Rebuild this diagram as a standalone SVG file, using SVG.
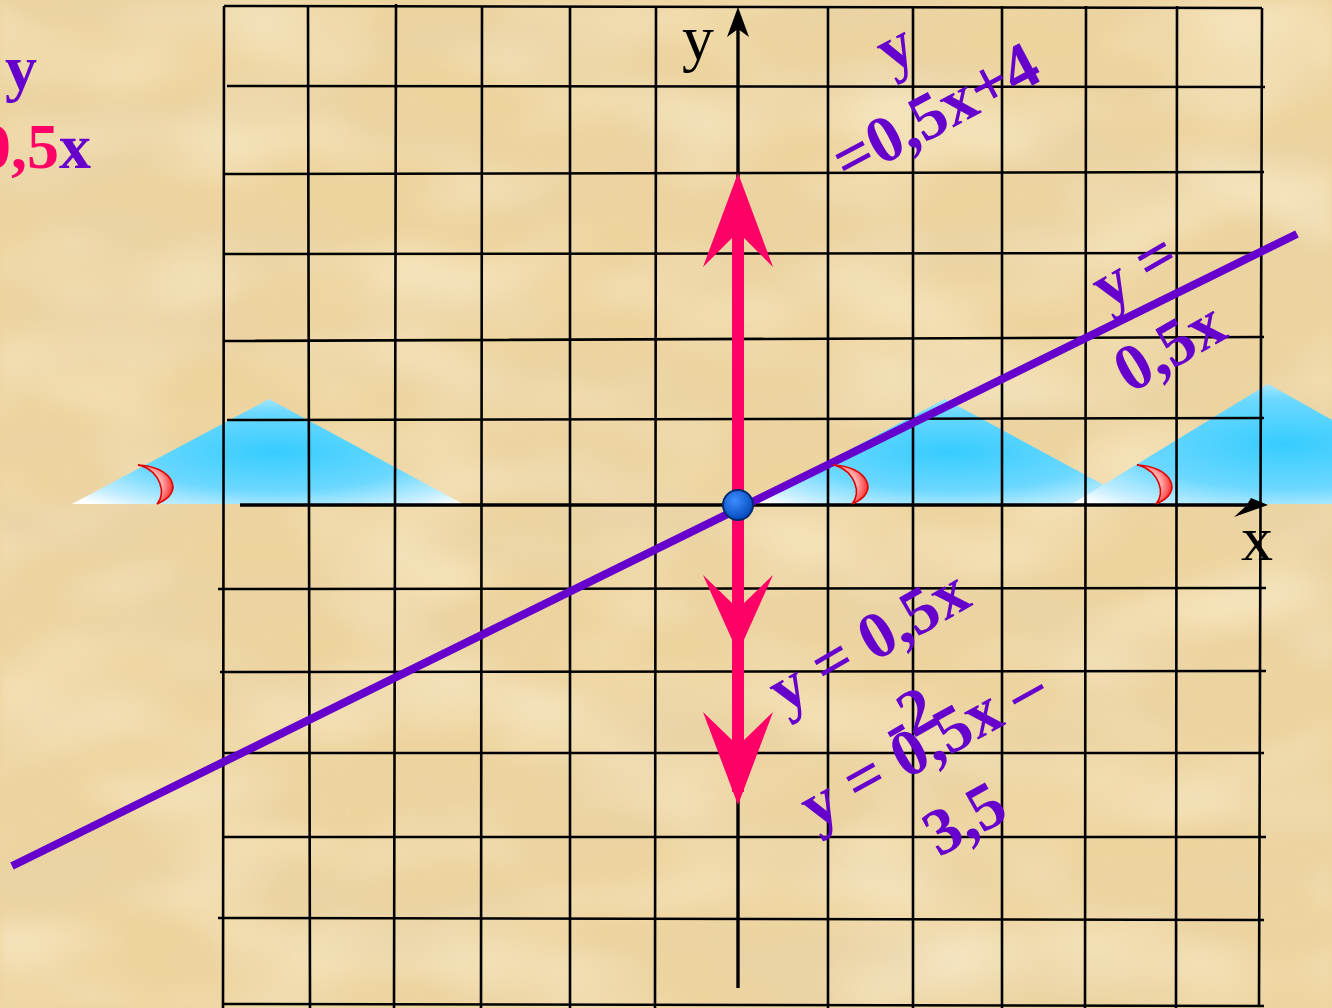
<svg xmlns="http://www.w3.org/2000/svg" width="1332" height="1008" viewBox="0 0 1332 1008">
  <defs>
    <filter id="paperDark" x="0" y="0" width="100%" height="100%" filterUnits="userSpaceOnUse">
      <feTurbulence type="fractalNoise" baseFrequency="0.004 0.014" numOctaves="2" seed="7"/>
      <feColorMatrix type="matrix" values="0 0 0 0 0.80  0 0 0 0 0.65  0 0 0 0 0.40  1.4 0 0 0 -0.55"/>
      <feGaussianBlur stdDeviation="4"/>
    </filter>
    <filter id="paperLight" x="0" y="0" width="100%" height="100%" filterUnits="userSpaceOnUse">
      <feTurbulence type="fractalNoise" baseFrequency="0.006 0.012" numOctaves="2" seed="23"/>
      <feColorMatrix type="matrix" values="0 0 0 0 0.98  0 0 0 0 0.88  0 0 0 0 0.66  0 1.2 0 0 -0.5"/>
      <feGaussianBlur stdDeviation="4"/>
    </filter>
    <radialGradient id="triGrad" cx="0.52" cy="0.5" r="0.68">
      <stop offset="0" stop-color="#36CCFF"/>
      <stop offset="0.55" stop-color="#6CD8FF"/>
      <stop offset="0.85" stop-color="#C4EEFF"/>
      <stop offset="1" stop-color="#FFFFFF"/>
    </radialGradient>
    <radialGradient id="crescGrad" cx="0.35" cy="0.5" r="0.7">
      <stop offset="0" stop-color="#FFF2F2"/>
      <stop offset="0.5" stop-color="#FFA8A8"/>
      <stop offset="1" stop-color="#FF1A1A"/>
    </radialGradient>
    <radialGradient id="dotGrad" cx="0.4" cy="0.35" r="0.7">
      <stop offset="0" stop-color="#3D8CFF"/>
      <stop offset="1" stop-color="#0046B8"/>
    </radialGradient>
    <path id="crescent" d="M -19 -39 C 14 -38 30 -12 0 0 C 10 -12 2 -32 -15 -38 Z"/>
    <style>
      .grid { stroke: #000; stroke-width: 2.6; fill: none; }
      .axis { stroke: #000; stroke-width: 3.4; fill: none; }
      .tri { fill: url(#triGrad); }
      .cres { fill: url(#crescGrad); stroke: #E00000; stroke-width: 1.6; }
      .pink { fill: #FF0066; }
      .lbl { font-family: "Liberation Serif", "Times New Roman", serif; font-weight: bold; font-size: 66px; fill: #6600CC; }
      .red { fill: #FF0066; }
      .axlbl { font-family: "Liberation Serif", "Times New Roman", serif; font-size: 64px; fill: #000; }
    </style>
  </defs>

  <g id="background">
    <rect x="0" y="0" width="1332" height="1008" fill="#EDD49F"/>
    <rect x="0" y="0" width="1332" height="1008" filter="url(#paperDark)"/>
    <rect x="0" y="0" width="1332" height="1008" filter="url(#paperLight)"/>
  </g>

  <g id="triangles">
    <polygon class="tri" points="72,504 269,399 463,504"/>
    <polygon class="tri" points="748,504 945,399 1139,504"/>
    <polygon class="tri" points="1072,504 1268,384 1482,504"/>
  </g>

  <g id="grid">
    <path class="grid" d="M224 6 L1262 8 M227 86 L1265 87 M224 174 L1264 172 M224 254 L1264 253 M224 341 L1264 337 M227 420 L1264 418 M218 589 L1266 588 M220 672 L1266 671 M222 753 L1264 753 M222 837 L1266 837 M218 918 L1264 920 M224 1004 L1264 1006"/>
    <path class="grid" d="M224 6 L223 1008 M308 6 L310 1008 M396 4 L394 1008 M482 6 L481 1008 M570 6 L570 1008 M656 6 L655 1008 M828 6 L828 1008 M913 6 L913 1008 M1002 6 L1002 1008 M1086 6 L1085 1008 M1177 6 L1176 1008 M1262 8 L1259 1006"/>
  </g>

  <g id="axes">
    <path class="axis" d="M240 505 L1250 505"/>
    <polygon points="1268,505 1234,517 1246,506 1251,498" fill="#000"/>
    <path class="axis" d="M738 988 L738 26"/>
    <polygon points="738,7 749,37 738,29 727,37" fill="#000"/>
    <text class="axlbl" x="682" y="59">y</text>
    <text class="axlbl" x="1241" y="560">x</text>
  </g>

  <g id="connectors">
    <line id="line-y-0.5x" x1="12" y1="866" x2="1297" y2="234" stroke="#6600CC" stroke-width="8"/>
    <g id="pink-arrows">
      <rect class="pink" x="732" y="236" width="12" height="556"/>
      <polygon class="pink" points="738,173 773,267 744,238 732,238 703,267"/>
      <polygon class="pink" points="703,575 732,603 744,603 773,575 738,653"/>
      <polygon class="pink" points="703,712 732,740 744,740 773,712 738,805"/>
    </g>
  </g>

  <g id="origin">
    <circle cx="738" cy="505" r="15" fill="url(#dotGrad)" stroke="#002A6E" stroke-width="2"/>
  </g>

  <g id="angle-marks">
    <use href="#crescent" class="cres" transform="translate(157,504)"/>
    <use href="#crescent" class="cres" transform="translate(852,504)"/>
    <use href="#crescent" class="cres" transform="translate(1156,504)"/>
  </g>

  <g id="label-left">
    <text class="lbl" x="5" y="89" style="font-size:64px">y</text>
    <text class="lbl" x="-21" y="168" style="font-size:64px"><tspan class="red">0,5</tspan>x</text>
  </g>

  <g id="label-plus4" transform="translate(847,184) rotate(-28)">
    <text class="lbl" x="90" y="-77">y</text>
    <text class="lbl" x="0" y="0">=0,5x+4</text>
  </g>

  <g id="label-05x" transform="translate(1130,394) rotate(-30)">
    <text class="lbl" x="22" y="-84">y =</text>
    <text class="lbl" x="0" y="0">0,5x</text>
  </g>

  <g id="label-minus2" transform="translate(784,714) rotate(-30)">
    <text class="lbl" x="0" y="0">y = 0,5x</text>
    <text class="lbl" x="78" y="86">-2</text>
  </g>

  <g id="label-minus35" transform="translate(815,830) rotate(-29)">
    <text class="lbl" x="0" y="0">y = 0,5x –</text>
    <text class="lbl" x="95" y="84">3,5</text>
  </g>
</svg>
